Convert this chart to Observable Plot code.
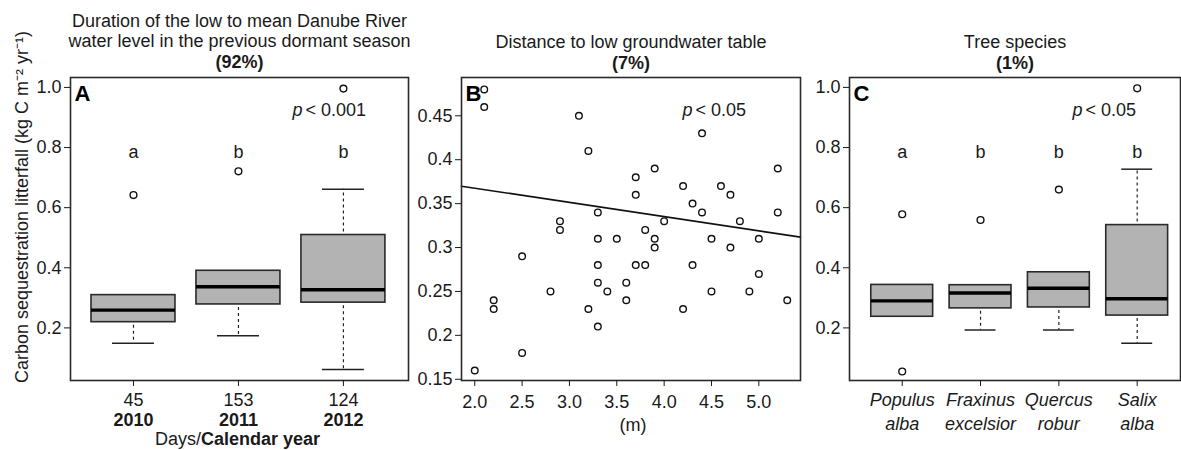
<!DOCTYPE html>
<html><head><meta charset="utf-8">
<script src="https://cdn.jsdelivr.net/npm/d3@7"></script>
<script src="https://cdn.jsdelivr.net/npm/@observablehq/plot@0.6"></script>
<style>
body{margin:0;background:#fff;font-family:"Liberation Sans",Arial,sans-serif;}
#wrap{position:relative;width:1181px;height:450px;overflow:hidden;background:#fff;}
#wrap svg{position:absolute;top:0;}
</style></head><body><div id="wrap"></div>
<script>
// ---------- Panel A: by year ----------
const yearDays = ["45", "153", "124"];
const yearLabels = ["2010", "2011", "2012"];
const yearQ1 = [0.219, 0.278, 0.284];
const yearMedian = [0.259, 0.337, 0.327];
const yearQ3 = [0.309, 0.390, 0.509];
const yearWhiskerLow = [0.149, 0.174, 0.062];
const yearWhiskerHigh = [0.309, 0.390, 0.661];
const yearOutliers = [[0.642], [0.721], [0.996]];
const yearLetters = ["a", "b", "b"];

// ---------- Panel B: distance to groundwater ----------
const distM = [2.1, 2.1, 2.0, 2.2, 2.2, 2.5, 2.5, 2.8, 2.9, 2.9, 3.1, 3.2, 3.2, 3.3, 3.3, 3.3, 3.3, 3.3, 3.4, 3.5,
  3.6, 3.6, 3.7, 3.7, 3.7, 3.8, 3.8, 3.9, 3.9, 3.9, 4.0, 4.2, 4.2, 4.3, 4.3, 4.4, 4.4, 4.5, 4.5, 4.6,
  4.7, 4.7, 4.8, 4.9, 5.0, 5.0, 5.2, 5.2, 5.3];
const carbonB = [0.48, 0.46, 0.16, 0.24, 0.23, 0.29, 0.18, 0.25, 0.33, 0.32, 0.45, 0.41, 0.23, 0.34, 0.31, 0.28, 0.26, 0.21, 0.25, 0.31,
  0.26, 0.24, 0.38, 0.36, 0.28, 0.32, 0.28, 0.39, 0.31, 0.30, 0.33, 0.37, 0.23, 0.35, 0.28, 0.43, 0.34, 0.31, 0.25, 0.37,
  0.36, 0.30, 0.33, 0.25, 0.31, 0.27, 0.39, 0.34, 0.24];
const regIntercept = 0.400;
const regSlope = -0.0162;

// ---------- Panel C: tree species ----------
const speciesGenus = ["Populus", "Fraxinus", "Quercus", "Salix"];
const speciesEpithet = ["alba", "excelsior", "robur", "alba"];
const speciesQ1 = [0.237, 0.265, 0.268, 0.241];
const speciesMedian = [0.290, 0.316, 0.332, 0.297];
const speciesQ3 = [0.343, 0.342, 0.385, 0.542];
const speciesWhiskerLow = [0.237, 0.193, 0.193, 0.149];
const speciesWhiskerHigh = [0.343, 0.342, 0.385, 0.728];
const speciesOutliers = [[0.578, 0.055], [0.559], [0.660], [0.997]];
const speciesLetters = ["a", "b", "b", "b"];

const FONT = "'Liberation Sans', Arial, Helvetica, sans-serif";
const INK = "#1a1a1a";
const wrap = document.getElementById("wrap");

function place(svg, left) { svg.style.left = left + "px"; wrap.appendChild(svg); }

const T = {fontSize: 18, fill: INK, lineAnchor: "middle"};

function titleMarks(lines, dys, bolds) {
  return lines.map((t, i) => Plot.text([t], {...T, frameAnchor: "top", textAnchor: "middle", dy: dys[i], fontWeight: bolds[i] ? "bold" : "normal"}));
}
function pMarks(pText, dx) {
  return [
    Plot.text(["p"], {...T, frameAnchor: "top-left", dx: dx, dy: 33, textAnchor: "end", fontStyle: "italic"}),
    Plot.text(["< " + pText], {...T, frameAnchor: "top-left", dx: dx + 3, dy: 33, textAnchor: "start"})
  ];
}
function panelLetter(l) {
  return Plot.text([l], {...T, frameAnchor: "top-left", dx: 4, dy: 16, textAnchor: "start", fontWeight: "bold", fontSize: 22, fill: "#000"});
}

function boxMarks(q1, med, q3, wlo, whi, outl, letters, halfW) {
  const rows = q1.map((d, i) => ({pos: i + 1, q1: q1[i], med: med[i], q3: q3[i], lo: wlo[i], hi: whi[i]}));
  const outRows = outl.flatMap((arr, i) => arr.map(v => ({pos: i + 1, v})));
  const capW = halfW / 2;
  return [
    Plot.ruleX(rows.filter(d => d.lo < d.q1), {x: "pos", y1: "q1", y2: "lo", stroke: "#222", strokeWidth: 1.2, strokeDasharray: "3,3", strokeDashoffset: -3}),
    Plot.ruleX(rows.filter(d => d.hi > d.q3), {x: "pos", y1: "q3", y2: "hi", stroke: "#222", strokeWidth: 1.2, strokeDasharray: "3,3", strokeDashoffset: -3}),
    Plot.ruleY(rows.filter(d => d.lo < d.q1), {y: "lo", x1: d => d.pos - capW, x2: d => d.pos + capW, stroke: "#222", strokeWidth: 1.5}),
    Plot.ruleY(rows.filter(d => d.hi > d.q3), {y: "hi", x1: d => d.pos - capW, x2: d => d.pos + capW, stroke: "#222", strokeWidth: 1.5}),
    Plot.rect(rows, {x1: d => d.pos - halfW, x2: d => d.pos + halfW, y1: "q1", y2: "q3", fill: "#b3b3b3", stroke: "#2a2a2a", strokeWidth: 1.6}),
    Plot.ruleY(rows, {y: "med", x1: d => d.pos - halfW, x2: d => d.pos + halfW, stroke: "#000", strokeWidth: 3.4}),
    Plot.dot(outRows, {x: "pos", y: "v", r: 3.4, stroke: "#111", strokeWidth: 1.4, fill: "none"}),
    Plot.text(letters, {...T, x: (d, i) => i + 1, frameAnchor: "top", textAnchor: "middle", dy: 75})
  ];
}

const common = {height: 450, marginTop: 77, marginBottom: 70,
  style: {fontFamily: FONT, fontSize: "18px", color: INK, background: "transparent", overflow: "visible"}};

// ---------- Panel A ----------
const plotA = Plot.plot({
  ...common, width: 410, marginLeft: 70, marginRight: 2,
  x: {type: "linear", domain: [0.4, 3.62], axis: null},
  y: {domain: [0.025, 1.033], axis: null},
  marks: [
    ...boxMarks(yearQ1, yearMedian, yearQ3, yearWhiskerLow, yearWhiskerHigh, yearOutliers, yearLetters, 0.4),
    Plot.frame({stroke: "#2a2a2a", strokeWidth: 1.6}),
    Plot.axisY({ticks: [0.2, 0.4, 0.6, 0.8, 1.0], tickFormat: d3.format(".1f"), tickSize: 6, tickPadding: 3, label: null, fontSize: 18}),
    Plot.axisX({ticks: [1, 2, 3], tickFormat: d => yearDays[d - 1], tickSize: 6, tickPadding: 7, label: null, fontSize: 18}),
    Plot.axisX({ticks: [1, 2, 3], tickFormat: d => yearLabels[d - 1], tickSize: 0, tickPadding: 33, label: null, fontWeight: "bold", fontSize: 18}),
    Plot.text(["Days/"], {...T, frameAnchor: "bottom", dx: -38.5, dy: 59, textAnchor: "end"}),
    Plot.text(["Calendar year"], {...T, frameAnchor: "bottom", dx: -38.5, dy: 59, textAnchor: "start", fontWeight: "bold"}),
    Plot.text(["Carbon sequestration litterfall (kg C m\u207B\u00B2 yr\u207B\u00B9)"], {...T, frameAnchor: "left", textAnchor: "middle", dx: -48, dy: -22, rotate: -90}),
    ...titleMarks(["Duration of the low to mean Danube River", "water level in the previous dormant season", "(92%)"], [-56, -36, -15], [false, false, true]),
    ...pMarks("0.001", 232),
    panelLetter("A")
  ]
});
place(plotA, 0);

// ---------- Panel B ----------
const xDomB = [1.86, 5.44];
const regLine = xDomB.map(x => ({x, y: regIntercept + regSlope * x}));
const pointsB = distM.map((d, i) => ({d, c: carbonB[i]}));
const plotB = Plot.plot({
  ...common, width: 400, marginLeft: 51, marginRight: 10,
  x: {domain: xDomB, axis: null},
  y: {domain: [0.1486, 0.4936], axis: null},
  marks: [
    Plot.line(regLine, {x: "x", y: "y", stroke: "#111", strokeWidth: 1.6}),
    Plot.dot(pointsB, {x: "d", y: "c", r: 3.3, stroke: "#111", strokeWidth: 1.4, fill: "none"}),
    Plot.frame({stroke: "#2a2a2a", strokeWidth: 1.6}),
    Plot.axisY({ticks: [0.15, 0.2, 0.25, 0.3, 0.35, 0.4, 0.45], tickFormat: d => String(d), tickSize: 6, tickPadding: 3, label: null, fontSize: 18}),
    Plot.axisX({ticks: [2, 2.5, 3, 3.5, 4, 4.5, 5], tickFormat: d3.format(".1f"), tickSize: 6, tickPadding: 9, label: null, fontSize: 18}),
    Plot.text(["(m)"], {...T, frameAnchor: "bottom", textAnchor: "middle", dx: 2, dy: 45}),
    ...titleMarks(["Distance to low groundwater table", "(7%)"], [-35, -14], [false, true]),
    ...pMarks("0.05", 231),
    panelLetter("B")
  ]
});
place(plotB, 410);

// ---------- Panel C ----------
const plotC = Plot.plot({
  ...common, width: 371, marginLeft: 39, marginRight: 1,
  x: {type: "linear", domain: [0.327, 4.553], axis: null},
  y: {domain: [0.025, 1.033], axis: null},
  marks: [
    ...boxMarks(speciesQ1, speciesMedian, speciesQ3, speciesWhiskerLow, speciesWhiskerHigh, speciesOutliers, speciesLetters, 0.395),
    Plot.frame({stroke: "#2a2a2a", strokeWidth: 1.6}),
    Plot.axisY({ticks: [0.2, 0.4, 0.6, 0.8, 1.0], tickFormat: d3.format(".1f"), tickSize: 6, tickPadding: 3, label: null, fontSize: 18}),
    Plot.axisX({ticks: [1, 2, 3, 4], tickFormat: d => speciesGenus[d - 1], tickSize: 6, tickPadding: 7, label: null, fontStyle: "italic", fontSize: 18}),
    Plot.axisX({ticks: [1, 2, 3, 4], tickFormat: d => speciesEpithet[d - 1], tickSize: 0, tickPadding: 37, label: null, fontStyle: "italic", fontSize: 18}),
    ...titleMarks(["Tree species", "(1%)"], [-35, -14], [false, true]),
    ...pMarks("0.05", 233),
    panelLetter("C")
  ]
});
place(plotC, 810);
</script></body></html>
